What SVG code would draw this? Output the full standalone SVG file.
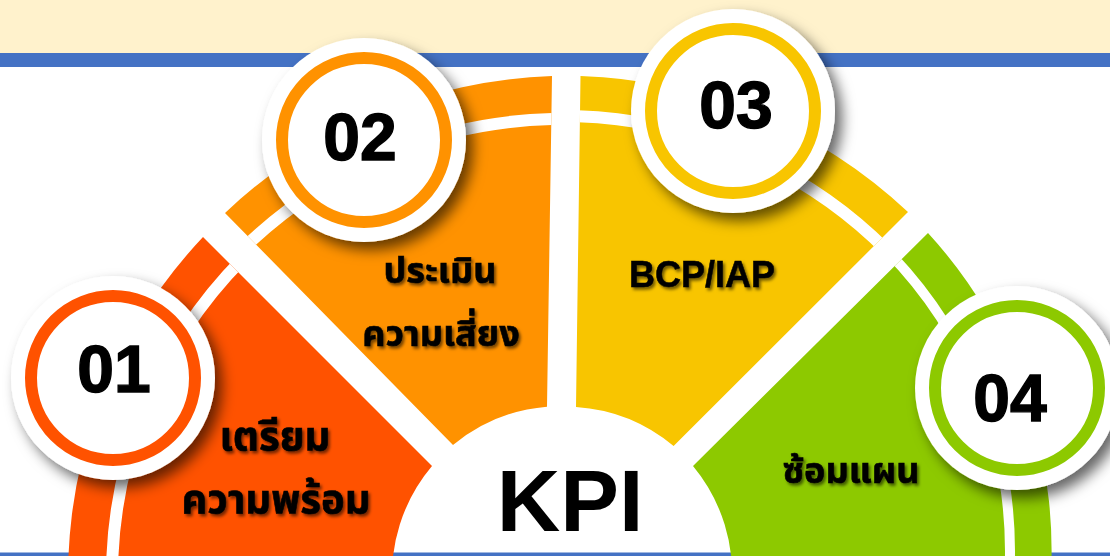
<svg xmlns="http://www.w3.org/2000/svg" width="1110" height="556" viewBox="0 0 1110 556">
<defs>
<style>
.num{font-family:'Liberation Sans',Arial,sans-serif;font-weight:bold;font-size:66px;fill:#000;stroke:#000;stroke-width:1.4px;text-anchor:middle}
.th{font-family:'Noto Sans Thai','Noto Sans',sans-serif;font-weight:bold;fill:#000;stroke:#000;stroke-width:0.6px;text-anchor:middle;filter:url(#tsh)}
.disk{fill:#fff;filter:url(#sh)}
.ring{fill:none;stroke-width:12}
.sep{fill:none;stroke:#fff}
</style>
<filter id="sh" x="-30%" y="-30%" width="160%" height="160%">
<feDropShadow dx="7" dy="8" stdDeviation="7" flood-color="#000" flood-opacity="0.6"/>
</filter>
<filter id="tsh" x="-10%" y="-30%" width="120%" height="160%">
<feDropShadow dx="2" dy="2.5" stdDeviation="1.5" flood-color="#000" flood-opacity="0.55"/>
</filter>
<clipPath id="c1"><path d="M203,237 L432,466 A170,170 0 0 0 392.6,590.8 L69.9,619 A494,494 0 0 1 203,237 Z"/></clipPath>
<clipPath id="c2"><path d="M225,213 L453,445 A170,170 0 0 1 547,406.7 L552,76 A498,498 0 0 0 225,213 Z"/></clipPath>
<clipPath id="c3"><path d="M580.5,76 L576,407 A170,170 0 0 1 673.6,446 L908,212 A501,501 0 0 0 580.5,76 Z"/></clipPath>
<clipPath id="c4"><path d="M928,233 L693,466 A170,170 0 0 1 731.4,590.8 L1049,600 A470,470 0 0 0 928,233 Z"/></clipPath>
</defs>

<g id="background">
<rect x="0" y="0" width="1110" height="556" fill="#fff"/>
<rect x="0" y="0" width="1110" height="53" fill="#FFF2CC"/>
<rect x="0" y="53" width="1110" height="14" fill="#4472C4"/>
<rect x="0" y="552.5" width="1110" height="3.5" fill="#4472C4"/>
</g>

<g id="seg-01">
<path d="M203,237 L432,466 A170,170 0 0 0 392.6,590.8 L69.9,619 A494,494 0 0 1 203,237 Z" fill="#FF5200"/>
<circle class="sep" cx="562" cy="576" r="450" stroke-width="12" clip-path="url(#c1)"/>
<text class="th" x="275" y="450" font-size="40">เตรียม</text>
<text class="th" x="276" y="513" font-size="40">ความพร้อม</text>
</g>

<g id="seg-02">
<path d="M225,213 L453,445 A170,170 0 0 1 547,406.7 L552,76 A498,498 0 0 0 225,213 Z" fill="#FF9200"/>
<circle class="sep" cx="562" cy="576" r="457" stroke-width="12" clip-path="url(#c2)"/>
<text class="th" x="440" y="283" font-size="36">ประเมิน</text>
<text class="th" x="441" y="346" font-size="36">ความเสี่ยง</text>
</g>

<g id="seg-03">
<path d="M580.5,76 L576,407 A170,170 0 0 1 673.6,446 L908,212 A501,501 0 0 0 580.5,76 Z" fill="#F8C500"/>
<circle class="sep" cx="562" cy="576" r="460" stroke-width="12" clip-path="url(#c3)"/>
<text x="702" y="287" font-family="'Liberation Sans',Arial,sans-serif" font-weight="bold" font-size="36" text-anchor="middle" stroke="#000" stroke-width="0.5" filter="url(#tsh)">BCP/IAP</text>
</g>

<g id="seg-04">
<path d="M928,233 L693,466 A170,170 0 0 1 731.4,590.8 L1049,600 A470,470 0 0 0 928,233 Z" fill="#8DC900"/>
<circle class="sep" cx="582" cy="551" r="428" stroke-width="10" clip-path="url(#c4)"/>
<text class="th" x="851" y="483" font-size="36">ซ้อมแผน</text>
</g>

<g id="center-kpi">
<text x="570" y="531" font-family="'Liberation Sans',Arial,sans-serif" font-weight="bold" font-size="88" text-anchor="middle">KPI</text>
</g>

<g id="connectors"></g>

<g id="badge-01">
<circle class="disk" cx="113" cy="378" r="102"/>
<circle class="ring" cx="113" cy="378" r="82" stroke="#FF5200"/>
<text class="num" x="114" y="392">01</text>
</g>
<g id="badge-02">
<circle class="disk" cx="364" cy="140" r="102"/>
<circle class="ring" cx="364" cy="140" r="82" stroke="#FF9200"/>
<text class="num" x="360" y="160">02</text>
</g>
<g id="badge-03">
<circle class="disk" cx="733" cy="111" r="102"/>
<circle class="ring" cx="733" cy="111" r="82" stroke="#F8C500"/>
<text class="num" x="736" y="128">03</text>
</g>
<g id="badge-04">
<circle class="disk" cx="1017" cy="388" r="102"/>
<circle class="ring" cx="1017" cy="388" r="82" stroke="#8DC900"/>
<text class="num" x="1010" y="421">04</text>
</g>
</svg>
